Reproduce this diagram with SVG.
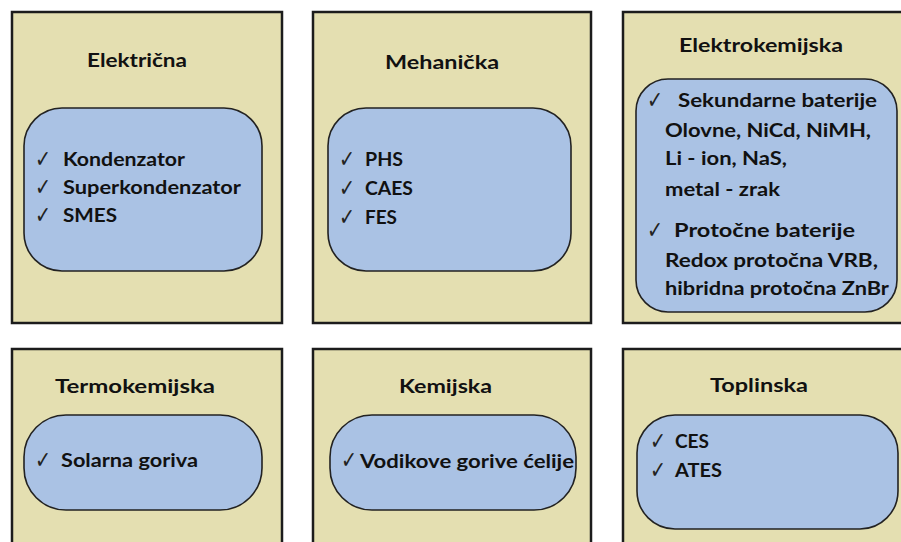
<svg xmlns="http://www.w3.org/2000/svg" width="901" height="542" viewBox="0 0 901 542">
<style>
.outer{fill:#E4DFB1;stroke:#1c1c1c;stroke-width:2.5}
.inner{fill:#AAC2E4;stroke:#222;stroke-width:1.6}
.t{font-family:Lato,"Open Sans","Liberation Sans",sans-serif;font-weight:700;font-size:19.5px;fill:#111}
.ck{font-family:"DejaVu Sans",sans-serif;font-size:24px;fill:#222}
</style>
<rect width="901" height="542" fill="#fff"/>
<g id="elektricna">
<rect class="outer" x="12" y="12" width="270" height="311"/>
<rect class="inner" x="24" y="108" width="238" height="163" rx="38" ry="38"/>
<text class="t" x="87" y="67" textLength="100" lengthAdjust="spacingAndGlyphs">Električna</text>
<text class="ck" x="35" y="167" textLength="16" lengthAdjust="spacingAndGlyphs">✓</text>
<text class="ck" x="35" y="195" textLength="16" lengthAdjust="spacingAndGlyphs">✓</text>
<text class="ck" x="35" y="223" textLength="16" lengthAdjust="spacingAndGlyphs">✓</text>
<text class="t" x="63" y="166" textLength="122" lengthAdjust="spacingAndGlyphs">Kondenzator</text>
<text class="t" x="63" y="194" textLength="178" lengthAdjust="spacingAndGlyphs">Superkondenzator</text>
<text class="t" x="63" y="222" textLength="54" lengthAdjust="spacingAndGlyphs">SMES</text>
</g>
<g id="mehanicka">
<rect class="outer" x="313" y="12" width="278" height="311"/>
<rect class="inner" x="328" y="108" width="243" height="163" rx="38" ry="38"/>
<text class="t" x="385" y="69" textLength="114" lengthAdjust="spacingAndGlyphs">Mehanička</text>
<text class="ck" x="339" y="167" textLength="16" lengthAdjust="spacingAndGlyphs">✓</text>
<text class="ck" x="339" y="196" textLength="16" lengthAdjust="spacingAndGlyphs">✓</text>
<text class="ck" x="339" y="225" textLength="16" lengthAdjust="spacingAndGlyphs">✓</text>
<text class="t" x="365" y="166" textLength="38" lengthAdjust="spacingAndGlyphs">PHS</text>
<text class="t" x="365" y="195" textLength="48" lengthAdjust="spacingAndGlyphs">CAES</text>
<text class="t" x="365" y="224" textLength="32" lengthAdjust="spacingAndGlyphs">FES</text>
</g>
<g id="elektrokemijska">
<rect class="outer" x="623" y="12" width="290" height="311"/>
<rect class="inner" x="636" y="79" width="261" height="233" rx="32" ry="32"/>
<text class="t" x="679" y="52" textLength="164" lengthAdjust="spacingAndGlyphs">Elektrokemijska</text>
<text class="ck" x="647" y="108" textLength="16" lengthAdjust="spacingAndGlyphs">✓</text>
<text class="t" x="678" y="107" textLength="199" lengthAdjust="spacingAndGlyphs">Sekundarne baterije</text>
<text class="t" x="665" y="137" textLength="206" lengthAdjust="spacingAndGlyphs">Olovne, NiCd, NiMH,</text>
<text class="t" x="665" y="165" textLength="122" lengthAdjust="spacingAndGlyphs">Li - ion, NaS,</text>
<text class="t" x="665" y="196" textLength="115" lengthAdjust="spacingAndGlyphs">metal - zrak</text>
<text class="ck" x="647" y="238" textLength="16" lengthAdjust="spacingAndGlyphs">✓</text>
<text class="t" x="674" y="237" textLength="181" lengthAdjust="spacingAndGlyphs">Protočne baterije</text>
<text class="t" x="665" y="267" textLength="213" lengthAdjust="spacingAndGlyphs">Redox protočna VRB,</text>
<text class="t" x="665" y="295" textLength="224" lengthAdjust="spacingAndGlyphs">hibridna protočna ZnBr</text>
</g>
<g id="termokemijska">
<rect class="outer" x="12" y="349" width="270" height="210"/>
<rect class="inner" x="24" y="415" width="238" height="95" rx="42" ry="42"/>
<text class="t" x="55" y="393" textLength="160" lengthAdjust="spacingAndGlyphs">Termokemijska</text>
<text class="ck" x="35" y="468" textLength="16" lengthAdjust="spacingAndGlyphs">✓</text>
<text class="t" x="61" y="467" textLength="137" lengthAdjust="spacingAndGlyphs">Solarna goriva</text>
</g>
<g id="kemijska">
<rect class="outer" x="313" y="349" width="278" height="210"/>
<rect class="inner" x="330" y="415" width="246" height="95" rx="42" ry="42"/>
<text class="t" x="399" y="393" textLength="93" lengthAdjust="spacingAndGlyphs">Kemijska</text>
<text class="ck" x="341" y="468" textLength="16" lengthAdjust="spacingAndGlyphs">✓</text>
<text class="t" x="360" y="468" textLength="214" lengthAdjust="spacingAndGlyphs">Vodikove gorive ćelije</text>
</g>
<g id="toplinska">
<rect class="outer" x="623" y="349" width="290" height="210"/>
<rect class="inner" x="637" y="415" width="261" height="114" rx="38" ry="38"/>
<text class="t" x="710" y="392" textLength="98" lengthAdjust="spacingAndGlyphs">Toplinska</text>
<text class="ck" x="650" y="449" textLength="16" lengthAdjust="spacingAndGlyphs">✓</text>
<text class="ck" x="650" y="478" textLength="16" lengthAdjust="spacingAndGlyphs">✓</text>
<text class="t" x="675" y="448" textLength="34" lengthAdjust="spacingAndGlyphs">CES</text>
<text class="t" x="675" y="477" textLength="47" lengthAdjust="spacingAndGlyphs">ATES</text>
</g>
<g id="connectors"></g>
</svg>
